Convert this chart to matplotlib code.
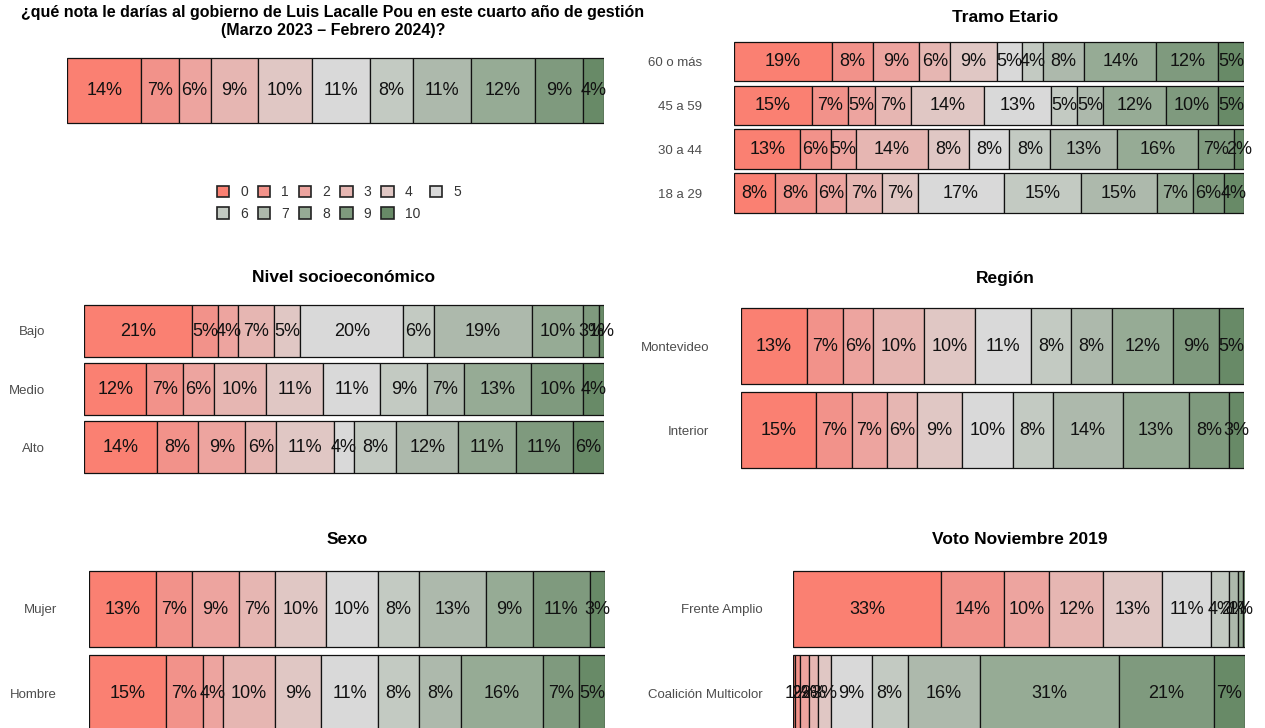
import matplotlib
matplotlib.use("Agg")
import matplotlib.pyplot as plt
from matplotlib.patches import Patch

plt.rcParams['font.family'] = ['Liberation Sans', 'DejaVu Sans']

# ---------------- data ----------------
notas = ["0", "1", "2", "3", "4", "5", "6", "7", "8", "9", "10"]
colores = ["#FA8072", "#F2928A", "#EDA49F", "#E6B6B2", "#E0C7C4", "#D9D9D9",
           "#C3CAC2", "#ADB9AC", "#96AB95", "#7F9A7E", "#688A67"]

total_vals = [14, 7, 6, 9, 10, 11, 8, 11, 12, 9, 4]

edad_cats = ["60 o más", "45 a 59", "30 a 44", "18 a 29"]
edad_60 = [19, 8, 9, 6, 9, 5, 4, 8, 14, 12, 5]
edad_45 = [15, 7, 5, 7, 14, 13, 5, 5, 12, 10, 5]
edad_30 = [13, 6, 5, 14, 8, 8, 8, 13, 16, 7, 2]
edad_18 = [8, 8, 6, 7, 7, 17, 15, 15, 7, 6, 4]

nse_cats = ["Bajo", "Medio", "Alto"]
nse_bajo = [21, 5, 4, 7, 5, 20, 6, 19, 10, 3, 1]
nse_medio = [12, 7, 6, 10, 11, 11, 9, 7, 13, 10, 4]
nse_alto = [14, 8, 9, 6, 11, 4, 8, 12, 11, 11, 6]

region_cats = ["Montevideo", "Interior"]
reg_mvd = [13, 7, 6, 10, 10, 11, 8, 8, 12, 9, 5]
reg_int = [15, 7, 7, 6, 9, 10, 8, 14, 13, 8, 3]

sexo_cats = ["Mujer", "Hombre"]
sexo_muj = [13, 7, 9, 7, 10, 10, 8, 13, 9, 11, 3]
sexo_hom = [15, 7, 4, 10, 9, 11, 8, 8, 16, 7, 5]

voto_cats = ["Frente Amplio", "Coalición Multicolor"]
voto_fa = [33, 14, 10, 12, 13, 11, 4, 2, 1, 0.5, 0]
voto_cm = [0.5, 1, 2, 2, 3, 9, 8, 16, 31, 21, 7]

W, H = 1265, 728
fig = plt.figure(figsize=(W / 100, H / 100), dpi=100)


def make_ax(x0, x1, y0, y1):
    return fig.add_axes([x0 / W, 1 - y1 / H, (x1 - x0) / W, (y1 - y0) / H])


def stacked(ax, rows, cats, pad=23, bh=0.9):
    n = len(rows)
    for i, row in enumerate(rows):
        tot = sum(row)
        left = 0.0
        for j, v in enumerate(row):
            w = v / tot * 100
            if w > 0:
                ax.barh(i, w, left=left, height=bh, color=colores[j],
                        edgecolor="#111111", linewidth=0.9)
                if v >= 1:
                    ax.text(left + w / 2, i, f"{round(v)}%", ha="center",
                            va="center", fontsize=13, color="#111111")
            left += w
    ax.set_xlim(0, 100)
    ax.set_ylim(n - 0.5, -0.5)
    for s in ax.spines.values():
        s.set_visible(False)
    ax.set_xticks([])
    if cats:
        ax.set_yticks(range(n))
        ax.set_yticklabels(cats, fontsize=9.5, color="#4D4D4D")
        ax.tick_params(axis="y", length=0, pad=pad)
    else:
        ax.set_yticks([])


ax0 = make_ax(67, 604, 54.5, 126.5)
stacked(ax0, [total_vals], None)

ax1 = make_ax(734, 1244, 39.5, 215)
stacked(ax1, [edad_60, edad_45, edad_30, edad_18], edad_cats, pad=23)

ax2 = make_ax(84, 604, 302, 476)
stacked(ax2, [nse_bajo, nse_medio, nse_alto], nse_cats, pad=28)

ax3 = make_ax(741, 1244, 304, 472.5)
stacked(ax3, [reg_mvd, reg_int], region_cats, pad=23)

ax4 = make_ax(89, 605, 567, 735)
stacked(ax4, [sexo_muj, sexo_hom], sexo_cats, pad=23)

ax5 = make_ax(793, 1245, 567, 735)
stacked(ax5, [voto_fa, voto_cm], voto_cats, pad=22)

# titles
fig.text(333 / W, 1 - 12 / H,
         "¿qué nota le darías al gobierno de Luis Lacalle Pou en este cuarto año de gestión",
         ha="center", va="center", fontsize=11.5, fontweight="bold")
fig.text(333 / W, 1 - 30 / H, "(Marzo 2023 – Febrero 2024)?",
         ha="center", va="center", fontsize=11.5, fontweight="bold")
fig.text(1005 / W, 1 - 18 / H, "Tramo Etario", ha="center", va="center",
         fontsize=12.5, fontweight="bold")
fig.text(343 / W, 1 - 278 / H, "Nivel socioeconómico", ha="center", va="center",
         fontsize=12.5, fontweight="bold")
fig.text(1005 / W, 1 - 278 / H, "Región", ha="center", va="center",
         fontsize=12.5, fontweight="bold")
fig.text(347 / W, 1 - 540 / H, "Sexo", ha="center", va="center",
         fontsize=12.5, fontweight="bold")
fig.text(1020 / W, 1 - 540 / H, "Voto Noviembre 2019", ha="center", va="center",
         fontsize=12.5, fontweight="bold")

# legend (row-wise order)
handles = [Patch(facecolor=c, edgecolor="#222222", linewidth=1.2) for c in colores]
order = [0, 6, 1, 7, 2, 8, 3, 9, 4, 10, 5]
leg = fig.legend([handles[i] for i in order], [notas[i] for i in order],
                 ncol=6, loc="center", bbox_to_anchor=(339 / W, 1 - 203 / H),
                 frameon=False, fontsize=10, handlelength=0.9, handleheight=0.9,
                 handletextpad=0.8, columnspacing=0.7, labelspacing=0.55)
for t in leg.get_texts():
    t.set_color("#333333")

fig.savefig("out.png", dpi=100)
